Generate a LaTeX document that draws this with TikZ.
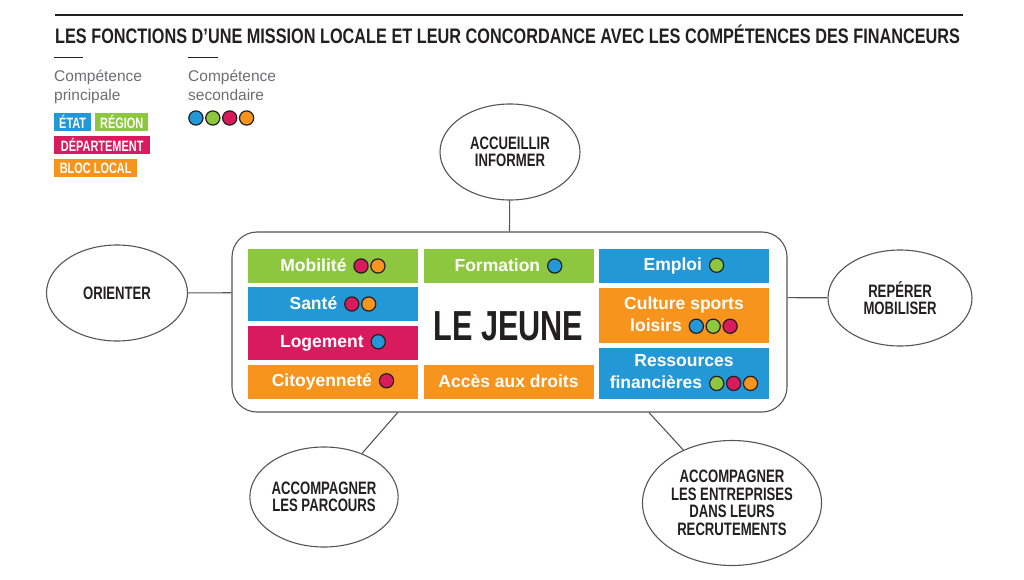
\documentclass[tikz,border=0pt]{standalone}
\usepackage{fontspec}
\setmainfont{Liberation Sans}
\newfontfamily\din[FakeStretch=0.73]{Liberation Sans}
\newfontfamily\dintitre[FakeStretch=0.775]{Liberation Sans}
\usetikzlibrary{shapes.geometric}

\definecolor{vert}{HTML}{8DC63F}
\definecolor{bleu}{HTML}{2398D6}
\definecolor{rose}{HTML}{D81B5C}
\definecolor{orange}{HTML}{F7941D}
\definecolor{encre}{HTML}{231F20}
\definecolor{trait}{HTML}{555555}
\definecolor{grisleg}{HTML}{6D6E71}

% petite pastille de competence secondaire
\newcommand\pastille[1]{\tikz[baseline=-0.6ex]\draw[fill=#1, line width=1.2pt, draw=encre] (0,0) circle (7.1pt);}

\begin{document}
\begin{tikzpicture}[x=1pt, y=-1pt,
    fonction/.style={draw=trait, ellipse, line width=1.1pt, inner sep=0pt, align=center,
        text=encre, font=\din\bfseries\fontsize{18}{17.5}\selectfont},
    case/.style={fill=#1, minimum width=170pt, minimum height=34pt, inner sep=0pt,
        align=center, text=white, font=\bfseries\fontsize{17.5}{22}\selectfont},
    etiquette/.style={fill=#1, anchor=west, minimum height=18pt, inner sep=0pt,
        text=white, font=\din\bfseries\fontsize{15}{15}\selectfont},
    legende/.style={anchor=north west, align=left, inner sep=0pt, text=grisleg,
        font=\fontsize{15.5}{19}\selectfont},
    lien/.style={draw=trait, line width=1.1pt}]
\useasboundingbox (0,0) rectangle (1024,580);

% titre
\draw[line width=1.2pt, encre] (55,15) -- (963,15);
\node[anchor=base west, inner sep=0pt, text=encre, font=\dintitre\bfseries\fontsize{21}{21}\selectfont] (titre) at (55,44)
    {LES FONCTIONS D’UNE MISSION LOCALE ET LEUR CONCORDANCE AVEC LES COMPÉTENCES DES FINANCEURS};

% legende
\draw[line width=1pt, encre] (54,58) -- (83,58);
\draw[line width=1pt, encre] (188,58) -- (218,58);
\node[legende] (princ) at (54,70) {Compétence\\principale};
\node[legende] (second) at (188,70) {Compétence\\secondaire};
\node[etiquette=bleu, minimum width=37pt] (etat) at (54,122) {ÉTAT};
\node[etiquette=vert, minimum width=53pt] (region) at (95,122) {RÉGION};
\node[etiquette=rose, minimum width=96pt] (dept) at (54,145) {DÉPARTEMENT};
\node[etiquette=orange, minimum width=83pt] (bloc) at (54,168) {BLOC LOCAL};
\node[inner sep=0pt, anchor=west] (pastilles) at (188,118)
    {\pastille{bleu}\hspace{1.5pt}\pastille{vert}\hspace{1.5pt}\pastille{rose}\hspace{1.5pt}\pastille{orange}};

% le jeune
\node[draw=trait, line width=1.1pt, rounded corners=25pt, minimum width=555pt, minimum height=180pt] (cadre) at (509.5,322) {};

\node[case=vert] (mobilite) at (333,266) {Mobilité\hspace{2pt} \pastille{rose}\hspace{1.5pt}\pastille{orange}};
\node[case=bleu] (sante) at (333,304) {Santé\hspace{2pt} \pastille{rose}\hspace{1.5pt}\pastille{orange}};
\node[case=rose] (logement) at (333,342.5) {Logement\hspace{2pt} \pastille{bleu}};
\node[case=orange] (citoyen) at (333,381.5) {Citoyenneté\hspace{2pt} \pastille{rose}};

\node[case=vert] (formation) at (508.5,266) {Formation\hspace{2pt} \pastille{bleu}};
\node[text=encre, font=\din\bfseries\fontsize{42}{42}\selectfont] (jeune) at (508.5,326) {LE JEUNE};
\node[case=orange] (droits) at (508.5,381.5) {Accès aux droits};

\node[case=bleu] (emploi) at (684,266) {Emploi\hspace{2pt} \pastille{vert}};
\node[case=orange, minimum height=55pt] (culture) at (684,315.5)
    {Culture sports\\loisirs\hspace{2pt} \pastille{bleu}\hspace{1.5pt}\pastille{vert}\hspace{1.5pt}\pastille{rose}};
\node[case=bleu, minimum height=51pt] (ressources) at (684,373)
    {Ressources\\financières\hspace{2pt} \pastille{vert}\hspace{1.5pt}\pastille{rose}\hspace{1.5pt}\pastille{orange}};

% fonctions
\node[fonction, minimum width=140pt, minimum height=96pt] (accueil) at (510,152) {ACCUEILLIR\\INFORMER};
\node[fonction, minimum width=141pt, minimum height=96pt] (orienter) at (117,293) {ORIENTER};
\node[fonction, minimum width=144pt, minimum height=96pt] (reperer) at (900,298) {REPÉRER\\MOBILISER};
\node[fonction, minimum width=140pt, minimum height=100pt] (parcours) at (324,497) {ACCOMPAGNER\\LES PARCOURS};
\node[fonction, minimum width=179pt, minimum height=125pt] (entreprises) at (732,503)
    {ACCOMPAGNER\\LES ENTREPRISES\\DANS LEURS\\RECRUTEMENTS};

\draw[lien] (accueil) -- (cadre.north);
\draw[lien] (orienter) -- (cadre.174);
\draw[lien] (reperer) -- (cadre.5);
\draw[lien] (parcours) -- (cadre.219);
\draw[lien] (entreprises) -- (cadre.327);
\end{tikzpicture}
\end{document}
